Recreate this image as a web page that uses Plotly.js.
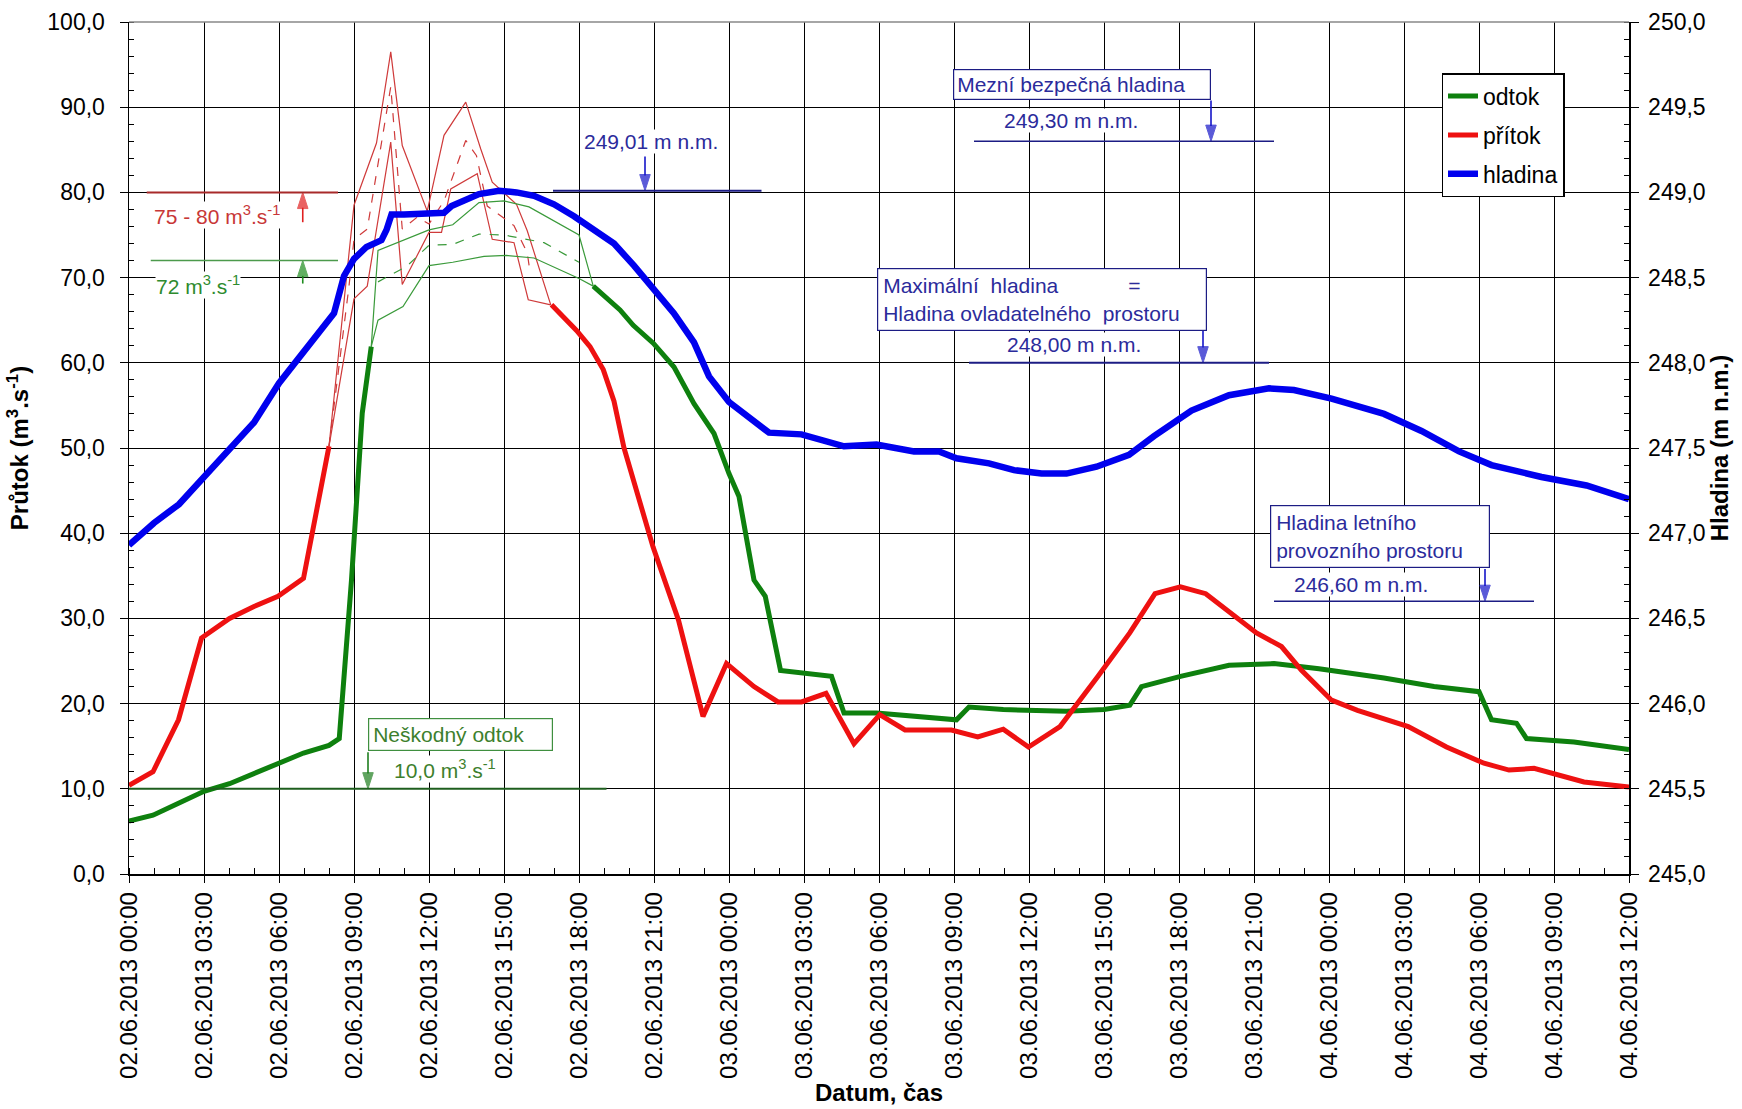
<!DOCTYPE html>
<html>
<head>
<meta charset="utf-8">
<script src="https://cdn.plot.ly/plotly-3.0.1.min.js"></script>
<style>html,body{margin:0;padding:0;background:#fff;}#chart{width:1742px;height:1109px;}</style>
</head>
<body>
<div id="chart"></div>
<script>
// ---- DATA (hours since 02.06.2013 00:00) ----
const odtokHours  = [0,0.96,1.98,3.0,4.02,5.04,5.96,6.98,8.0,8.41,8.9,9.33,9.69, 14, 18.57,19.64,20.17,20.97,21.8,22.6,23.4,24.0,24.4,25.0,25.45,26.06,28.1,28.6,29.9,32.4,33.1,33.6,34.97,37.5,39.0,40.03,40.5,42.06,44.0,45.8,47.6,50.2,52.2,54.0,54.5,55.5,55.9,57.8,60];
const odtokValues = [6.2,6.9,8.3,9.7,10.6,11.8,13.0,14.2,15.1,15.9,34.5,54.1,61.9, null, 69.0,66.2,64.4,62.3,59.5,55.2,51.7,47.0,44.3,34.5,32.6,23.9,23.2,18.9,18.9,18.3,18.1,19.6,19.3,19.1,19.3,19.8,22.0,23.2,24.5,24.7,24.1,23.0,22.0,21.4,18.1,17.7,15.9,15.5,14.6];

const pritokHours  = [0,0.96,1.98,2.9,4.02,5.0,5.96,6.98,8.0, 12, 16.9,17.9,18.44,18.97,19.4,19.8,20.96,21.98,22.96,23.9,25.0,25.96,26.9,27.88,29.0,30.03,31.04,32.9,33.95,34.97,35.98,37.24,38.76,40.03,41.04,42.06,43.07,45.1,46.1,46.9,48.1,49.14,51.17,52.7,54.2,55.2,56.2,57.2,58.2,60];
const pritokValues = [10.4,12.0,18.1,27.7,30.0,31.4,32.6,34.7,50.2, null, 66.8,63.8,61.9,59.2,55.5,50.0,38.4,29.8,18.5,24.7,22.0,20.2,20.2,21.2,15.3,18.7,16.9,16.9,16.1,17.0,14.9,17.3,23.2,28.3,32.9,33.7,32.9,28.3,26.7,23.9,20.4,19.2,17.3,14.9,13.0,12.2,12.4,11.6,10.8,10.2];

const hladinaHours  = [0,1,2,3,4,5,6,7,7.85,8.2,8.6,9,9.5,10.1,10.3,10.5,11,12,12.6,12.9,13.5,14,14.8,15.5,16.2,17,17.8,18.6,19.4,20.2,21,21.8,22.6,23.2,24,25,25.6,26.9,28.6,29.9,31.4,32.4,33.1,34.4,35.4,36.5,37.5,38.7,40,41,42.5,44,45.6,46.6,48.1,50.2,51.7,53.2,54.5,56.5,58.3,60];
const hladinaValues = [246.93,247.06,247.17,247.33,247.48,247.65,247.88,248.06,248.22,248.29,248.51,248.61,248.68,248.72,248.78,248.87,248.87,248.88,248.88,248.92,248.96,248.99,249.01,249.00,248.98,248.93,248.86,248.78,248.70,248.57,248.43,248.29,248.12,247.92,247.77,247.65,247.59,247.58,247.51,247.52,247.48,247.48,247.44,247.41,247.37,247.35,247.35,247.39,247.46,247.57,247.72,247.81,247.85,247.84,247.79,247.70,247.60,247.48,247.40,247.33,247.28,247.20];

// scenario envelopes (thin lines)
const pritokHighHours  = [8.0,8.5,9.0,9.9,10.47,10.93,11.93,12.6,13.47,14.07,14.53,15.5,15.93,16.87];
const pritokHighValues = [50.2,64,78.5,85.8,96.5,85.5,77.8,86.7,90.6,85.1,81.2,78.6,75.5,66.8];
const pritokMidHours   = [8.0,8.8,9.0,9.53,10.47,10.93,11.53,12.0,12.6,13.47,13.9,14.33,15.4,15.93,16.05];
const pritokMidValues  = [50.2,69,74.5,75.7,92.4,75.7,77.1,76.3,79.0,86.1,84.3,78.4,76.1,72.9,70.5];
const pritokLowHours   = [8.0,9.0,9.53,10.47,10.93,12.0,12.5,12.87,13.93,14.53,15.4,15.97,16.87];
const pritokLowValues  = [50.2,67.5,69,85.9,69.2,75.3,75.3,80.4,82.2,74.5,74.1,67.4,66.8];

const odtokHighHours  = [9.69,9.96,12.0,12.95,14.0,15.0,16.0,18.0,18.57];
const odtokHighValues = [61.9,73.2,75.6,76.2,78.8,79.0,78.3,75.0,69.0];
const odtokMidHours   = [9.96,11.1,12.0,12.95,14.0,15.0,16.6,18.0];
const odtokMidValues  = [69.5,71.3,73.8,73.9,75.1,75.0,74.1,71.8];
const odtokLowHours   = [9.69,9.96,10.96,12.0,12.95,14.2,15.1,16.2,18.0,18.57];
const odtokLowValues  = [61.9,65.0,66.6,71.4,71.8,72.5,72.6,72.3,69.9,69.0];

// reference levels
const limitPritok = 80;          // 75 - 80 m3/s
const limitOdtok72 = 72;
const neskodnyOdtok = 10.0;
const maxReached = 249.01;
const mezniHladina = 249.30;
const maxHladina = 248.00;
const letniHladina = 246.60;

// ---- helpers ----
const START = Date.UTC(2013, 5, 2, 0, 0, 0);
function t(h) { return new Date(START + Math.round(h * 3600000)).toISOString().slice(0, 19).replace('T', ' '); }
const T = arr => arr.map(t);

const FONT = 'Liberation Sans, Arial, sans-serif';
const thinRed = '#cf3a3a', thinGreen = '#3a9a3a';
const navyText = '#2b2b9b', navyLine = '#1c1c84', blueArrow = '#1515c8';
const greenText = '#3d7f2d';

function thin(h, v, color, dash) {
  return { x: T(h), y: v, type: 'scatter', mode: 'lines', showlegend: false, hoverinfo: 'skip',
           line: { color: color, width: 1.2, dash: dash || 'solid' } };
}
function arrowTrace(h, yFrom, yTo, color, axis) {
  return { x: [t(h), t(h)], y: [yFrom, yTo], yaxis: axis || 'y', type: 'scatter', mode: 'lines+markers',
           showlegend: false, hoverinfo: 'skip', line: { color: color, width: 1.6 },
           marker: { symbol: ['line-ew', 'arrow'], angleref: 'previous', size: [0, 17], color: color,
                     line: { width: 1, color: color } } };
}

const data = [
  thin(pritokHighHours, pritokHighValues, thinRed),
  thin(pritokMidHours, pritokMidValues, thinRed, 'dash'),
  thin(pritokLowHours, pritokLowValues, thinRed),
  thin(odtokHighHours, odtokHighValues, thinGreen),
  thin(odtokMidHours, odtokMidValues, thinGreen, 'dash'),
  thin(odtokLowHours, odtokLowValues, thinGreen),
  arrowTrace(6.95, 76.5, limitPritok, '#e02020'),
  arrowTrace(6.95, 69.3, limitOdtok72, '#1e8c1e'),
  arrowTrace(9.56, 14.3, neskodnyOdtok, '#1e7e1e'),
  arrowTrace(20.64, 249.21, maxReached, blueArrow, 'y2'),
  arrowTrace(43.28, 249.54, mezniHladina, blueArrow, 'y2'),
  arrowTrace(42.96, 248.19, maxHladina, blueArrow, 'y2'),
  arrowTrace(54.24, 246.79, letniHladina, blueArrow, 'y2'),
  { x: T(odtokHours), y: odtokValues, name: 'odtok', legendgroup: 'a', type: 'scatter', mode: 'lines',
    connectgaps: false, line: { color: '#0e800e', width: 5 } },
  { x: T(pritokHours), y: pritokValues, name: 'přítok', legendgroup: 'b', type: 'scatter', mode: 'lines',
    connectgaps: false, line: { color: '#ee1111', width: 5 } },
  { x: T(hladinaHours), y: hladinaValues, name: 'hladina', legendgroup: 'c', type: 'scatter', mode: 'lines',
    yaxis: 'y2', line: { color: '#0000ee', width: 6.5 } }
];

function hline(h0, h1, y, color, width, yref) {
  return { type: 'line', xref: 'x', yref: yref || 'y', x0: t(h0), x1: t(h1), y0: y, y1: y,
           line: { color: color, width: width } };
}
const shapes = [
  hline(0.71, 8.36, limitPritok, '#a82a2a', 2),
  hline(0.87, 8.36, limitOdtok72, '#4c9a4c', 1.5),
  hline(0, 19.1, neskodnyOdtok, '#1e5e1e', 2),
  hline(16.96, 25.3, maxReached, navyLine, 2, 'y2'),
  hline(33.8, 45.8, mezniHladina, navyLine, 1.5, 'y2'),
  hline(33.6, 45.6, maxHladina, navyLine, 2, 'y2'),
  hline(45.8, 56.2, letniHladina, navyLine, 1.5, 'y2'),
  { type: 'line', xref: 'paper', yref: 'paper', x0: 0, x1: 1, y0: 1, y1: 1, line: { color: '#888', width: 1.5 } }
];

function label(text, h, y, color) {
  return { text: text, x: t(h), y: y, xref: 'x', yref: 'y', showarrow: false,
           font: { family: FONT, size: 21, color: color }, bgcolor: 'white', borderpad: 0 };
}
function box(text, h, y, color, border, width, pad) {
  return { text: text, x: t(h), y: y, xref: 'x', yref: 'y', xanchor: 'left', yanchor: 'top',
           showarrow: false, align: 'left', width: width,
           font: { family: FONT, size: 21, color: color }, bgcolor: 'white',
           bordercolor: border, borderwidth: 1.2, borderpad: pad };
}
const nb = '\u00a0';
const annotations = [
  label('75 - 80 m<sup>3</sup>.s<sup>-1</sup>', 3.5, 77.3, '#c83737'),
  label('72 m<sup>3</sup>.s<sup>-1</sup>', 2.76, 69.1, '#2e8b2e'),
  label('249,01 m n.m.', 20.86, 86.0, navyText),
  box('Mezní bezpečná hladina', 32.96, 94.5, navyText, navyLine, 250, 3),
  label('249,30 m n.m.', 37.66, 88.4, navyText),
  box('Maximální' + nb + ' hladina' + nb.repeat(12) + '=<br>Hladina ovladatelného' + nb + ' prostoru', 29.92, 71.1, navyText, navyLine, 318, 5),
  label('248,00 m n.m.', 37.8, 62.1, navyText),
  box('Hladina letního<br>provozního prostoru', 45.64, 43.3, navyText, navyLine, 208, 5),
  label('246,60 m n.m.', 49.28, 34.0, navyText),
  box('Neškodný odtok', 9.56, 18.3, greenText, '#3f8f3f', 175, 4),
  label('10,0 m<sup>3</sup>.s<sup>-1</sup>', 12.64, 12.3, greenText)
];

const layout = {
  width: 1742, height: 1109,
  margin: { l: 129, r: 113, t: 22, b: 235, pad: 0 },
  paper_bgcolor: 'white', plot_bgcolor: 'white',
  separators: ', ',
  font: { family: FONT, color: '#000' },
  showlegend: true,
  legend: { x: 0.875, y: 0.94, xanchor: 'left', yanchor: 'top', bgcolor: 'white',
            bordercolor: '#000', borderwidth: 1.5, font: { family: FONT, size: 23, color: '#000' },
            tracegroupgap: 6, traceorder: 'grouped' },
  xaxis: {
    type: 'date', range: [t(0), t(60)], tick0: t(0), dtick: 3 * 3600000,
    tickformat: '%d.%m.%Y %H:%M', tickangle: -90,
    tickfont: { family: FONT, size: 24, color: '#000' },
    showgrid: true, gridcolor: '#000', gridwidth: 1,
    ticks: 'outside', ticklen: 7, tickcolor: '#000', tickwidth: 1,
    showline: true, linecolor: '#000', linewidth: 1.5, zeroline: false,
    minor: { dtick: 3600000, ticks: 'inside', ticklen: 6, tickcolor: '#000', showgrid: false },
    title: { text: '<b>Datum, čas</b>', font: { family: FONT, size: 24, color: '#000' }, standoff: 4 }
  },
  yaxis: {
    range: [0, 100], dtick: 10, tickformat: '.1f',
    tickfont: { family: FONT, size: 23, color: '#000' },
    showgrid: true, gridcolor: '#000', gridwidth: 1, zeroline: false,
    ticks: 'outside', ticklen: 8, tickcolor: '#000', ticklabelstandoff: 10,
    showline: true, linecolor: '#000', linewidth: 1.5,
    minor: { dtick: 2, ticks: 'inside', ticklen: 5, tickcolor: '#000', showgrid: false },
    title: { text: '<b>Průtok (m<sup>3</sup>.s<sup>-1</sup>)</b>', font: { family: FONT, size: 24, color: '#000' }, standoff: 12 }
  },
  yaxis2: {
    overlaying: 'y', side: 'right', range: [245, 250], dtick: 0.5, tickformat: '.1f',
    tickfont: { family: FONT, size: 23, color: '#000' },
    showgrid: false, zeroline: false,
    ticks: 'outside', ticklen: 8, tickcolor: '#000', ticklabelstandoff: 5,
    showline: true, linecolor: '#000', linewidth: 1.5,
    minor: { dtick: 0.1, ticks: 'inside', ticklen: 5, tickcolor: '#000', showgrid: false },
    title: { text: '<b>Hladina (m n.m.)</b>', font: { family: FONT, size: 24, color: '#000' }, standoff: 4 }
  },
  shapes: shapes,
  annotations: annotations
};

Plotly.newPlot('chart', data, layout, { staticPlot: true, displayModeBar: false });
</script>
</body>
</html>
